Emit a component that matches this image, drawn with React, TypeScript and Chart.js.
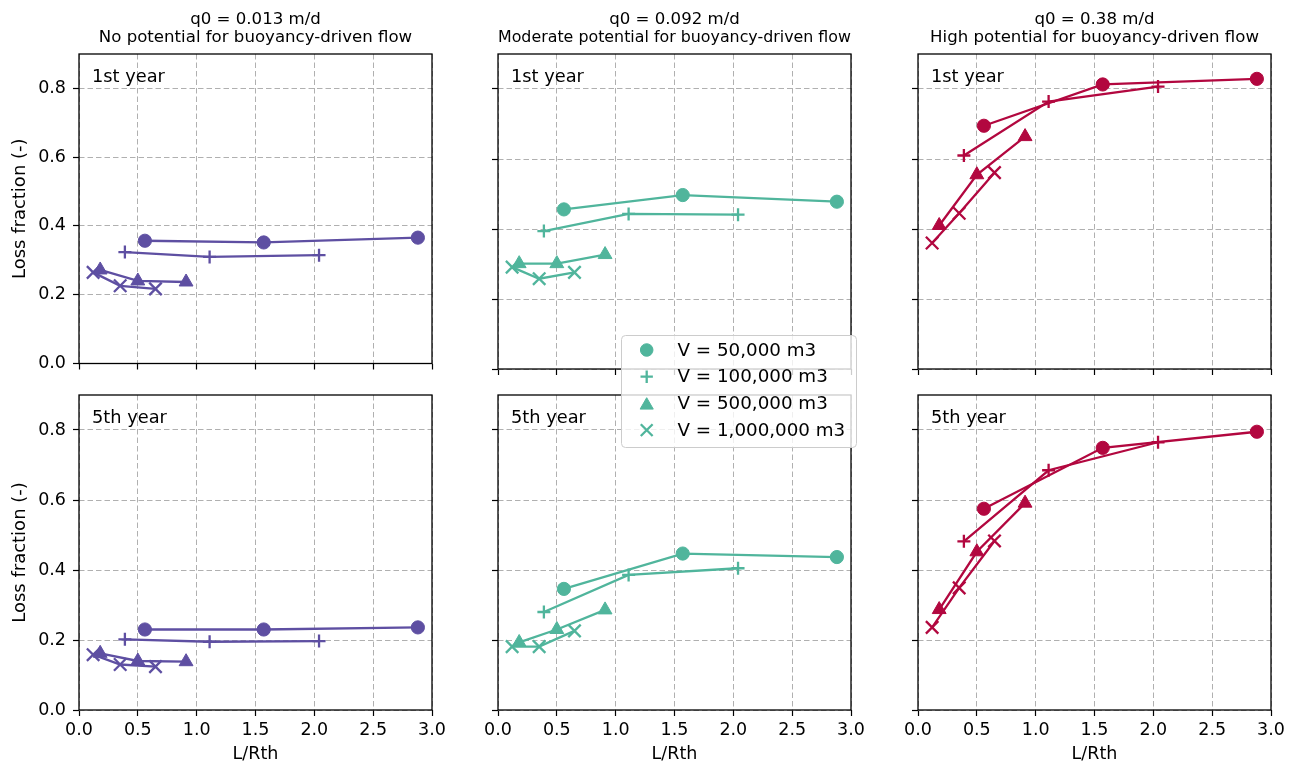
import React, { useEffect, useRef } from "react";
import { Chart, registerables } from "chart.js";

Chart.register(...registerables);

const FONT_FAMILY = "'DejaVu Sans', 'Liberation Sans', sans-serif";

// ---------------- tick labels ----------------
const X_TICKS = [0.0, 0.5, 1.0, 1.5, 2.0, 2.5, 3.0];
const Y_TICKS = [0.0, 0.2, 0.4, 0.6, 0.8];

// ---------------- categories ----------------
const VOLUMES = ["V = 50,000 m3", "V = 100,000 m3", "V = 500,000 m3", "V = 1,000,000 m3"];
const Q0_LABELS = ["q0 = 0.013 m/d", "q0 = 0.092 m/d", "q0 = 0.38 m/d"];
const POTENTIAL_LABELS = [
  "No potential for buoyancy-driven flow",
  "Moderate potential for buoyancy-driven flow",
  "High potential for buoyancy-driven flow",
];
const YEAR_LABELS = ["1st year", "5th year"];
const SERIES_COLORS = ["#5e4fa2", "#50b59c", "#b2073f"];

// ---------------- L/Rth per storage volume ----------------
const LRTH_V50K = [0.56, 1.57, 2.88];
const LRTH_V100K = [0.39, 1.11, 2.04];
const LRTH_V500K = [0.18, 0.5, 0.91];
const LRTH_V1M = [0.12, 0.35, 0.65];

// ---------------- loss fraction: q0 = 0.013 m/d ----------------
const LOW_Y1_V50K = [0.357, 0.352, 0.366];
const LOW_Y1_V100K = [0.324, 0.31, 0.315];
const LOW_Y1_V500K = [0.272, 0.24, 0.237];
const LOW_Y1_V1M = [0.265, 0.226, 0.217];
const LOW_Y5_V50K = [0.23, 0.23, 0.236];
const LOW_Y5_V100K = [0.202, 0.195, 0.197];
const LOW_Y5_V500K = [0.162, 0.14, 0.138];
const LOW_Y5_V1M = [0.158, 0.13, 0.124];

// ---------------- loss fraction: q0 = 0.092 m/d ----------------
const MOD_Y1_V50K = [0.456, 0.497, 0.478];
const MOD_Y1_V100K = [0.394, 0.443, 0.441];
const MOD_Y1_V500K = [0.301, 0.301, 0.327];
const MOD_Y1_V1M = [0.291, 0.258, 0.276];
const MOD_Y5_V50K = [0.346, 0.447, 0.437];
const MOD_Y5_V100K = [0.28, 0.386, 0.405];
const MOD_Y5_V500K = [0.193, 0.23, 0.286];
const MOD_Y5_V1M = [0.181, 0.181, 0.226];

// ---------------- loss fraction: q0 = 0.38 m/d ----------------
const HIGH_Y1_V50K = [0.695, 0.813, 0.829];
const HIGH_Y1_V100K = [0.61, 0.764, 0.807];
const HIGH_Y1_V500K = [0.41, 0.555, 0.664];
const HIGH_Y1_V1M = [0.36, 0.445, 0.561];
const HIGH_Y5_V50K = [0.575, 0.749, 0.795];
const HIGH_Y5_V100K = [0.482, 0.685, 0.765];
const HIGH_Y5_V500K = [0.287, 0.452, 0.591];
const HIGH_Y5_V1M = [0.236, 0.349, 0.483];

const LRTH = [LRTH_V50K, LRTH_V100K, LRTH_V500K, LRTH_V1M];
// LOSS[col][row][volume]
const LOSS = [
  [
    [LOW_Y1_V50K, LOW_Y1_V100K, LOW_Y1_V500K, LOW_Y1_V1M],
    [LOW_Y5_V50K, LOW_Y5_V100K, LOW_Y5_V500K, LOW_Y5_V1M],
  ],
  [
    [MOD_Y1_V50K, MOD_Y1_V100K, MOD_Y1_V500K, MOD_Y1_V1M],
    [MOD_Y5_V50K, MOD_Y5_V100K, MOD_Y5_V500K, MOD_Y5_V1M],
  ],
  [
    [HIGH_Y1_V50K, HIGH_Y1_V100K, HIGH_Y1_V500K, HIGH_Y1_V1M],
    [HIGH_Y5_V50K, HIGH_Y5_V100K, HIGH_Y5_V500K, HIGH_Y5_V1M],
  ],
];

// ---------------- styles / layout ----------------
const MARKERS = [
  { pointStyle: "circle", pointRadius: 6.6, pointBorderWidth: 1 },
  { pointStyle: "cross", pointRadius: 6.5, pointBorderWidth: 2.3 },
  { pointStyle: "triangle", pointRadius: 8, pointBorderWidth: 1 },
  { pointStyle: "crossRot", pointRadius: 8.8, pointBorderWidth: 2.3 },
];

const PLOT_LEFT = [79, 498, 918];
const PLOT_TOP = [54, 395];
const PLOT_W = 353;
const PLOT_H = 315;
const PAD_R = 25;

const panelDecor = {
  id: "panelDecor",
  afterDatasetsDraw(chart: any, _args: any, opts: any) {
    const { ctx, chartArea: a } = chart;
    ctx.save();
    ctx.strokeStyle = "#000";
    ctx.lineWidth = 1.3;
    ctx.strokeRect(a.left, a.top, a.right - a.left, a.bottom - a.top);
    ctx.fillStyle = "#000";
    ctx.font = `17.8px ${FONT_FAMILY}`;
    ctx.textBaseline = "alphabetic";
    ctx.textAlign = "left";
    ctx.fillText(opts.note, a.left + 13, a.top + 28);
    ctx.restore();
  },
};

function Panel({ col, row }: { col: number; row: number }) {
  const ref = useRef<HTMLCanvasElement>(null);
  const padL = col === 0 ? 79 : 30;
  const padT = row === 0 ? 54 : 30;
  const padB = row === 1 ? 57 : 12;
  const width = padL + PLOT_W + PAD_R;
  const height = padT + PLOT_H + padB;
  const left = PLOT_LEFT[col] - padL;
  const top = PLOT_TOP[row] - padT;

  useEffect(() => {
    const color = SERIES_COLORS[col];
    const tickFont = { family: FONT_FAMILY, size: 17.5 };
    const chart = new Chart(ref.current as HTMLCanvasElement, {
      type: "scatter",
      data: {
        datasets: LOSS[col][row].map((ys, k) => ({
          label: VOLUMES[k],
          data: LRTH[k].map((x, i) => ({ x, y: ys[i] })),
          showLine: true,
          borderColor: color,
          backgroundColor: color,
          borderWidth: 2.3,
          pointBackgroundColor: color,
          pointBorderColor: color,
          pointStyle: MARKERS[k].pointStyle as any,
          pointRadius: MARKERS[k].pointRadius,
          pointHoverRadius: MARKERS[k].pointRadius,
          pointBorderWidth: MARKERS[k].pointBorderWidth,
        })),
      },
      options: {
        responsive: false,
        maintainAspectRatio: false,
        animation: false,
        events: [],
        layout: { padding: { top: row === 1 ? 30 : 0, right: PAD_R, left: 0, bottom: 0 } },
        plugins: {
          legend: { display: false },
          tooltip: { enabled: false },
          title: {
            display: row === 0,
            fullSize: false,
            text: [Q0_LABELS[col], POTENTIAL_LABELS[col]],
            color: "#000",
            font: { family: FONT_FAMILY, size: 16.6, weight: "normal", lineHeight: 17.5 / 16.6 },
            padding: { top: 11.25, bottom: 7.75 },
          },
          panelDecor: { note: YEAR_LABELS[row] },
        } as any,
        scales: {
          x: {
            type: "linear",
            min: 0,
            max: 3,
            afterBuildTicks: (s: any) => {
              s.ticks = X_TICKS.map((v) => ({ value: v }));
            },
            afterFit: (s: any) => {
              s.height = padB;
            },
            ticks: {
              display: row === 1,
              color: "#000",
              font: tickFont,
              padding: 4,
              maxRotation: 0,
              autoSkip: false,
              callback: (v: any) => Number(v).toFixed(1),
            },
            grid: {
              color: "#b0b0b0",
              lineWidth: 1,
              tickLength: 6,
              tickColor: "#000",
              tickWidth: 1.2,
              tickBorderDash: [],
            },
            border: { display: false, dash: [5.5, 3] },
            title: {
              display: row === 1,
              text: "L/Rth",
              color: "#000",
              font: { family: FONT_FAMILY, size: 17.5 },
              padding: { top: 0, bottom: 2 },
            },
          },
          y: {
            type: "linear",
            min: 0,
            max: 0.9,
            afterBuildTicks: (s: any) => {
              s.ticks = Y_TICKS.map((v) => ({ value: v }));
            },
            afterFit: (s: any) => {
              s.width = padL;
            },
            ticks: {
              display: col === 0,
              color: "#000",
              font: tickFont,
              padding: 7,
              callback: (v: any) => Number(v).toFixed(1),
            },
            grid: {
              color: "#b0b0b0",
              lineWidth: 1,
              tickLength: 6,
              tickColor: "#000",
              tickWidth: 1.2,
              tickBorderDash: [],
            },
            border: { display: false, dash: [5.5, 3] },
            title: {
              display: col === 0,
              text: "Loss fraction (-)",
              color: "#000",
              font: { family: FONT_FAMILY, size: 18 },
              padding: { top: 10, bottom: 0 },
            },
          },
        },
      } as any,
      plugins: [panelDecor],
    });
    return () => chart.destroy();
  }, [col, row]);

  return (
    <canvas
      ref={ref}
      width={width}
      height={height}
      style={{ position: "absolute", left, top, width, height }}
    />
  );
}

function drawMarker(ctx: CanvasRenderingContext2D, style: string, x: number, y: number, r: number, lw: number, color: string) {
  ctx.save();
  ctx.fillStyle = color;
  ctx.strokeStyle = color;
  ctx.lineWidth = lw;
  ctx.beginPath();
  if (style === "circle") {
    ctx.arc(x, y, r, 0, Math.PI * 2);
    ctx.fill();
    ctx.stroke();
  } else if (style === "cross") {
    ctx.moveTo(x - r, y);
    ctx.lineTo(x + r, y);
    ctx.moveTo(x, y - r);
    ctx.lineTo(x, y + r);
    ctx.stroke();
  } else if (style === "triangle") {
    const yc = y + r / 4;
    ctx.moveTo(x, yc - r);
    ctx.lineTo(x + 0.866 * r, yc + 0.5 * r);
    ctx.lineTo(x - 0.866 * r, yc + 0.5 * r);
    ctx.closePath();
    ctx.fill();
    ctx.stroke();
  } else {
    const o = r * Math.SQRT1_2;
    ctx.moveTo(x - o, y - o);
    ctx.lineTo(x + o, y + o);
    ctx.moveTo(x - o, y + o);
    ctx.lineTo(x + o, y - o);
    ctx.stroke();
  }
  ctx.restore();
}

const legendBox = {
  id: "legendBox",
  afterDraw(chart: any) {
    const { ctx, width, height } = chart;
    ctx.save();
    ctx.beginPath();
    ctx.roundRect(0.5, 0.5, width - 1, height - 1, 4);
    ctx.fillStyle = "rgba(255,255,255,0.8)";
    ctx.fill();
    ctx.strokeStyle = "#cccccc";
    ctx.lineWidth = 1;
    ctx.stroke();
    chart.data.datasets.forEach((ds: any, i: number) => {
      const y = 15 + i * 26.7;
      drawMarker(ctx, ds.pointStyle, 25.7, y, ds.pointRadius, ds.pointBorderWidth, ds.pointBackgroundColor);
      ctx.fillStyle = "#000";
      ctx.font = `18.3px ${FONT_FAMILY}`;
      ctx.textBaseline = "middle";
      ctx.textAlign = "left";
      ctx.fillText(ds.label, 56.5, y + 1);
    });
    ctx.restore();
  },
};

function Legend() {
  const ref = useRef<HTMLCanvasElement>(null);
  const width = 236;
  const height = 113;
  useEffect(() => {
    const color = SERIES_COLORS[1];
    const chart = new Chart(ref.current as HTMLCanvasElement, {
      type: "scatter",
      data: {
        datasets: VOLUMES.map((label, k) => ({
          label,
          data: [],
          pointStyle: MARKERS[k].pointStyle as any,
          pointRadius: MARKERS[k].pointRadius * 0.95,
          pointBorderWidth: MARKERS[k].pointBorderWidth,
          pointBackgroundColor: color,
          pointBorderColor: color,
        })),
      },
      options: {
        responsive: false,
        animation: false,
        events: [],
        plugins: { legend: { display: false }, tooltip: { enabled: false } },
        scales: { x: { display: false }, y: { display: false } },
      } as any,
      plugins: [legendBox],
    });
    return () => chart.destroy();
  }, []);
  return (
    <canvas
      ref={ref}
      width={width}
      height={height}
      style={{ position: "absolute", left: 621, top: 335, width, height }}
    />
  );
}

export default function App() {
  const cells: { col: number; row: number }[] = [];
  for (let row = 0; row < 2; row++) for (let col = 0; col < 3; col++) cells.push({ col, row });
  return (
    <div style={{ position: "absolute", left: 0, top: 0, width: 1293, height: 767, background: "#fff", overflow: "hidden" }}>
      {cells.map((c) => (
        <Panel key={`${c.col}-${c.row}`} col={c.col} row={c.row} />
      ))}
      <Legend />
    </div>
  );
}
